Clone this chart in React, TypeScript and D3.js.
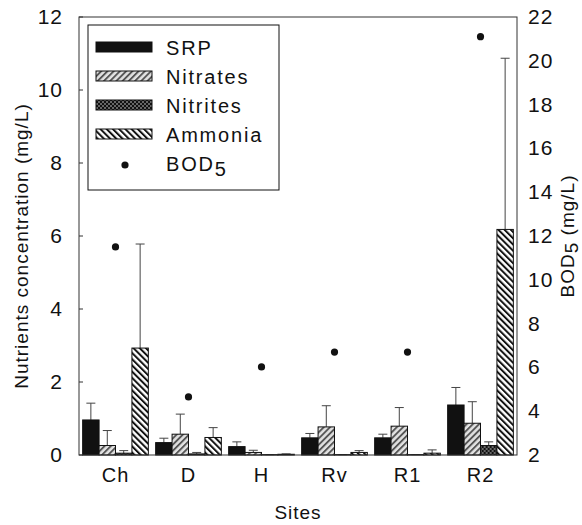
import React from 'react';
import * as d3 from 'd3';

const sites = ['Ch', 'D', 'H', 'Rv', 'R1', 'R2'];
const seriesNames = ['SRP', 'Nitrates', 'Nitrites', 'Ammonia'];

const srp = [0.96, 0.34, 0.23, 0.47, 0.47, 1.37];
const srpSd = [0.46, 0.12, 0.13, 0.12, 0.1, 0.48];
const nitrates = [0.26, 0.57, 0.07, 0.77, 0.79, 0.87];
const nitratesSd = [0.41, 0.55, 0.06, 0.58, 0.51, 0.59];
const nitrites = [0.05, 0.03, 0.01, 0.01, 0.01, 0.26];
const nitritesSd = [0.07, 0.04, 0.0, 0.0, 0.0, 0.1];
const ammonia = [2.93, 0.48, 0.02, 0.07, 0.05, 6.18];
const ammoniaSd = [2.85, 0.27, 0.01, 0.05, 0.09, 4.69];
const bod5 = [11.5, 4.65, 6.02, 6.7, 6.7, 21.1];

const leftTicks = [0, 2, 4, 6, 8, 10, 12];
const rightTicks = [2, 4, 6, 8, 10, 12, 14, 16, 18, 20, 22];

const values = [srp, nitrates, nitrites, ammonia];
const sds = [srpSd, nitratesSd, nitritesSd, ammoniaSd];
const fills = ['#111', 'url(#pNitrates)', 'url(#pNitrites)', 'url(#pAmmonia)'];

const W = 582;
const H = 525;
const left = 79;
const right = 517;
const top = 17;
const bottom = 455;
const font = '"Liberation Sans", Arial, sans-serif';

export default function App() {
  const x = d3.scaleBand().domain(sites).range([left, right]).paddingInner(0.1).paddingOuter(0.05);
  const xs = d3.scaleBand().domain(seriesNames).range([0, x.bandwidth()]);
  const y = d3.scaleLinear().domain([0, 12]).range([bottom, top]);
  const y2 = d3.scaleLinear().domain([2, 22]).range([bottom, top]);

  return (
    <svg width={W} height={H} style={{ position: 'absolute', left: 0, top: 0, background: '#fff' }} fontFamily={font}>
      <defs>
        <pattern id="pNitrates" width="4.4" height="10" patternUnits="userSpaceOnUse" patternTransform="rotate(45)">
          <rect width="4.4" height="10" fill="#e2e2e2" />
          <rect width="1.9" height="10" fill="#555" />
        </pattern>
        <pattern id="pAmmonia" width="4.4" height="10" patternUnits="userSpaceOnUse" patternTransform="rotate(-45)">
          <rect width="4.4" height="10" fill="#fff" />
          <rect width="2" height="10" fill="#111" />
        </pattern>
        <pattern id="pNitrites" width="4" height="4" patternUnits="userSpaceOnUse">
          <rect width="4" height="4" fill="#666" />
          <rect width="2" height="2" fill="#111" />
          <rect x="2" y="2" width="2" height="2" fill="#111" />
        </pattern>
      </defs>

      {/* bars + error bars */}
      {sites.map((s, i) => (
        <g key={s} transform={`translate(${x(s)},0)`}>
          {seriesNames.map((n, j) => {
            const v = values[j][i];
            const bx = xs(n)!;
            const bw = xs.bandwidth();
            const cx = bx + bw / 2;
            const yTop = y(v);
            const yErr = y(v + sds[j][i]);
            return (
              <g key={n}>
                <line x1={cx} x2={cx} y1={yTop} y2={yErr} stroke="#444" strokeWidth={1} />
                <line x1={cx - 4.5} x2={cx + 4.5} y1={yErr} y2={yErr} stroke="#444" strokeWidth={1} />
                <rect x={bx} y={yTop} width={bw} height={bottom - yTop} fill={fills[j]} stroke="#111" strokeWidth={1} />
              </g>
            );
          })}
        </g>
      ))}

      {/* BOD5 points */}
      {sites.map((s, i) => (
        <circle key={s} cx={x(s)! + x.bandwidth() / 2} cy={y2(bod5[i])} r={3.6} fill="#111" />
      ))}

      {/* frame */}
      <rect x={left} y={top} width={right - left} height={bottom - top} fill="none" stroke="#333" strokeWidth={1} />

      {/* left axis */}
      {leftTicks.map((t) => (
        <g key={t}>
          <line x1={left} x2={left + 4} y1={y(t)} y2={y(t)} stroke="#333" />
          <text x={63} y={y(t) + 7} textAnchor="end" fontSize={21} letterSpacing={1} fill="#111">{t}</text>
        </g>
      ))}
      <text transform={`translate(28,246) rotate(-90)`} textAnchor="middle" fontSize={19} letterSpacing={1} fill="#111">
        Nutrients concentration (mg/L)
      </text>

      {/* right axis */}
      {rightTicks.map((t) => (
        <text key={t} x={528} y={y2(t) + 7} fontSize={21} letterSpacing={1} fill="#111">{t}</text>
      ))}
      <text transform={`translate(574,236) rotate(-90)`} textAnchor="middle" fontSize={19} letterSpacing={1} fill="#111">
        BOD<tspan dy={4}>5</tspan><tspan dy={-4}> (mg/L)</tspan>
      </text>

      {/* x axis labels */}
      {sites.map((s) => (
        <text key={s} x={x(s)! + x.bandwidth() / 2} y={482} textAnchor="middle" fontSize={20} letterSpacing={1} fill="#111">{s}</text>
      ))}
      <text x={(left + right) / 2} y={519} textAnchor="middle" fontSize={19} letterSpacing={1} fill="#111">Sites</text>

      {/* legend */}
      <rect x={88} y={25} width={191} height={165} fill="#fff" stroke="#111" strokeWidth={1} />
      {seriesNames.map((n, j) => (
        <g key={n} transform={`translate(0,${55 + j * 29})`}>
          <rect x={96} y={-13} width={56} height={10} fill={fills[j]} stroke="#111" strokeWidth={1} />
          <text x={166} y={0} fontSize={20} letterSpacing={1.8} fill="#111">{n}</text>
        </g>
      ))}
      <g transform={`translate(0,${55 + 4 * 29})`}>
        <circle cx={125} cy={-6} r={3.6} fill="#111" />
        <text x={166} y={0} fontSize={20} letterSpacing={1.8} fill="#111">
          BOD<tspan dy={5}>5</tspan>
        </text>
      </g>
    </svg>
  );
}
